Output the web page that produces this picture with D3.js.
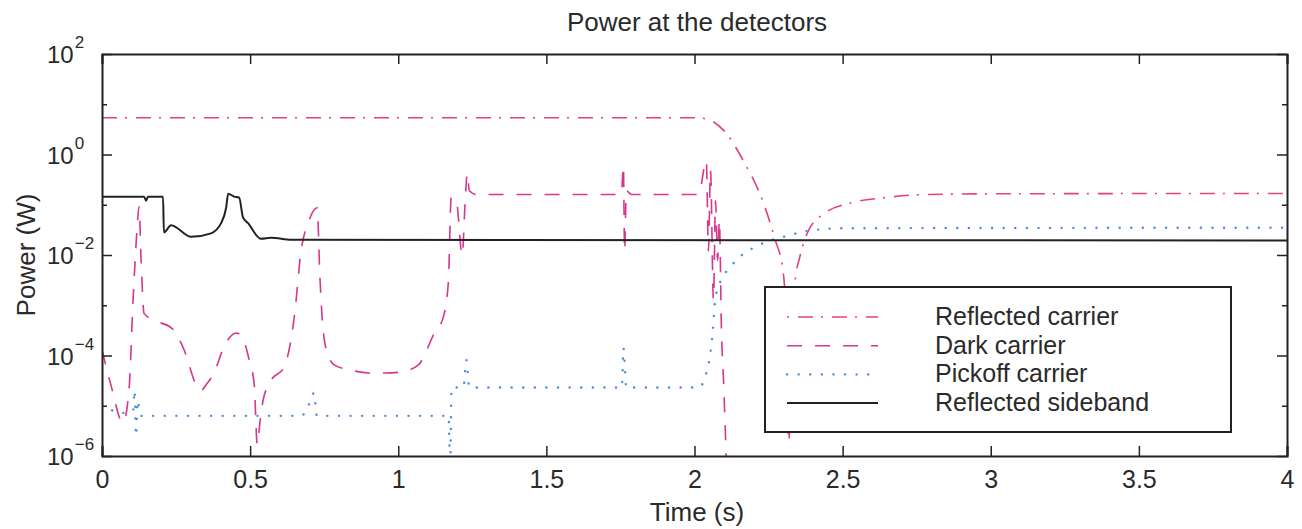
<!DOCTYPE html>
<html>
<head>
<meta charset="utf-8">
<script src="https://cdn.jsdelivr.net/npm/d3@7"></script>
<style>
  body { margin: 0; background: #fff; }
  svg text { font-family: "Liberation Sans", Arial, sans-serif; fill: #2a2a2a; }
</style>
</head>
<body>
<svg id="chart"></svg>
<script>
// time (s) and power (W)
var reflectedCarrierT = [0, 2.0, 2.04, 2.10, 2.17, 2.23, 2.27, 2.30, 2.31, 2.318, 2.33, 2.34, 2.355, 2.385, 2.44, 2.53, 2.64, 2.76, 3.0, 4.0];
var reflectedCarrierP = [5.4, 5.4, 5.1, 2.95, 0.66, 0.12, 0.022, 4.3e-3, 3.2e-4, 2e-6, 2.0e-4, 3.2e-3, 8.9e-3, 0.031, 0.068, 0.11, 0.138, 0.158, 0.165, 0.168];

var darkCarrierT = [0, 0.03, 0.071, 0.091, 0.105, 0.118, 0.125, 0.132, 0.142, 0.176, 0.233, 0.277, 0.318, 0.334, 0.351, 0.378, 0.412, 0.453, 0.470, 0.497, 0.514, 0.524, 0.534, 0.544, 0.571, 0.615, 0.649, 0.672, 0.699, 0.726, 0.736, 0.743, 0.757, 0.784, 0.841, 0.899, 0.959, 1.010, 1.068, 1.122, 1.152, 1.169, 1.179, 1.196, 1.216, 1.226, 1.233, 1.240, 1.264, 1.753, 1.760, 1.764, 1.770, 1.787, 2.014, 2.04, 2.047, 2.054, 2.064, 2.071, 2.078, 2.084, 2.091, 2.098, 2.105, 2.11];
var darkCarrierP = [1.3e-4, 2.6e-5, 4.6e-6, 2.0e-5, 1.3e-3, 0.031, 0.092, 7.8e-3, 6.9e-4, 5.0e-4, 3.6e-4, 1.3e-4, 2.6e-5, 2.0e-5, 2.6e-5, 4.5e-5, 1.5e-4, 2.8e-4, 2.5e-4, 8.1e-5, 2.6e-5, 1.7e-6, 5.2e-6, 1.3e-5, 3.2e-5, 5.9e-5, 5.8e-4, 0.012, 0.049, 0.087, 3.2e-3, 5.8e-4, 1.3e-4, 6.5e-5, 5.1e-5, 4.5e-5, 4.5e-5, 4.7e-5, 6.5e-5, 2.8e-4, 5.8e-4, 2.8e-3, 0.14, 0.12, 0.01, 0.12, 0.42, 0.19, 0.16, 0.16, 0.6, 0.012, 0.19, 0.16, 0.16, 0.76, 0.012, 0.48, 1.3e-3, 0.12, 7.8e-3, 0.049, 3.2e-4, 3.2e-5, 2.1e-6, 3e-7];

var pickoffCarrierT = [0, 0.03, 0.07, 0.105, 0.11, 0.115, 0.12, 0.13, 0.672, 0.69, 0.716, 0.725, 1.17, 1.175, 1.18, 1.22, 1.23, 1.24, 1.755, 1.76, 1.77, 2.014, 2.04, 2.055, 2.062, 2.07, 2.09, 2.12, 2.14, 2.17, 2.21, 2.25, 2.30, 2.38, 2.50, 4.0];
var pickoffCarrierP = [1.05e-5, 8.3e-6, 7.2e-6, 7.9e-6, 2.0e-5, 2.5e-6, 1.26e-5, 6.3e-6, 6.3e-6, 8e-6, 1.8e-5, 6.3e-6, 6.3e-6, 6.3e-7, 2.3e-5, 2.3e-5, 8.1e-5, 2.3e-5, 2.3e-5, 1.4e-4, 2.3e-5, 2.3e-5, 4.5e-5, 1.3e-4, 3.2e-4, 1.3e-3, 3.2e-3, 5.6e-3, 7.8e-3, 0.011, 0.015, 0.019, 0.023, 0.030, 0.034, 0.035];

var sidebandT = [0, 0.142, 0.149, 0.155, 0.206, 0.209, 0.233, 0.301, 0.368, 0.402, 0.419, 0.426, 0.446, 0.463, 0.476, 0.493, 0.537, 0.571, 0.639, 4.0];
var sidebandP = [0.145, 0.145, 0.12, 0.145, 0.145, 0.028, 0.039, 0.023, 0.027, 0.043, 0.087, 0.166, 0.145, 0.138, 0.056, 0.043, 0.021, 0.022, 0.020, 0.0195];

var seriesNames = ["Reflected carrier", "Dark carrier", "Pickoff carrier", "Reflected sideband"];
var xTicks = [0, 0.5, 1, 1.5, 2, 2.5, 3, 3.5, 4];
var yTickExps = [2, 1, 0, -1, -2, -3, -4, -5, -6];
var yLabelExps = [2, 0, -2, -4, -6];

var margin = { top: 54, right: 15, bottom: 73, left: 102 },
  W = 1302, H = 529,
  width = W - margin.left - margin.right,
  height = H - margin.top - margin.bottom;

var svg = d3.select("#chart").attr("width", W).attr("height", H);

var x = d3.scaleLinear().domain([0, 4]).range([0, width]);
var y = d3.scaleLog().domain([1e-6, 1e2]).range([height, 0]);

var styles = [
  { color: "#e5417c", dash: "15,8,2,9", width: 1.6, cap: "butt" },
  { color: "#d5368e", dash: "15,13", width: 1.6, cap: "butt" },
  { color: "#4a8de0", dash: "0.1,11.5", width: 2.4, cap: "round" },
  { color: "#222", dash: null, width: 2, cap: "butt" }
];

var series = [
  d3.zip(reflectedCarrierT, reflectedCarrierP),
  d3.zip(darkCarrierT, darkCarrierP),
  d3.zip(pickoffCarrierT, pickoffCarrierP),
  d3.zip(sidebandT, sidebandP)
];

var g = svg.append("g").attr("transform", "translate(" + margin.left + "," + margin.top + ")");

g.append("clipPath").attr("id", "clip")
  .append("rect").attr("width", width).attr("height", height);

var line = d3.line()
  .curve(d3.curveMonotoneX)
  .x(function(d) { return x(d[0]); })
  .y(function(d) { return y(Math.max(d[1], 1e-7)); });

g.append("g").attr("clip-path", "url(#clip)")
  .selectAll("path")
  .data(series)
  .enter().append("path")
  .attr("d", line)
  .attr("fill", "none")
  .attr("stroke", function(d, i) { return styles[i].color; })
  .attr("stroke-width", function(d, i) { return styles[i].width; })
  .attr("stroke-dasharray", function(d, i) { return styles[i].dash; })
  .attr("stroke-linecap", function(d, i) { return styles[i].cap; });

// axes: inward ticks on all four sides
var xb = d3.axisBottom(x).tickValues(xTicks).tickSize(-10).tickPadding(14).tickFormat(d3.format("~g"));
var xt = d3.axisTop(x).tickValues(xTicks).tickSize(-10).tickFormat("");
var ytickVals = yTickExps.map(function(e) { return Math.pow(10, e); });
var tickLen = function(v) {
  return yLabelExps.indexOf(Math.round(Math.log10(v))) >= 0 ? 10 : 5;
};

g.append("g").attr("transform", "translate(0," + height + ")").call(xb);
g.append("g").call(xt);
var ylG = g.append("g").call(d3.axisLeft(y).tickValues(ytickVals).tickFormat("").tickSize(0));
var yrG = g.append("g").attr("transform", "translate(" + width + ",0)")
  .call(d3.axisRight(y).tickValues(ytickVals).tickFormat("").tickSize(0));

// log ticks: labelled decades are long, others short
ylG.selectAll(".tick line").attr("x2", function(d) { return tickLen(d); });
yrG.selectAll(".tick line").attr("x2", function(d) { return -tickLen(d); });

g.selectAll(".domain").attr("stroke", "#222").attr("stroke-width", 2);
g.selectAll(".tick line").attr("stroke", "#222").attr("stroke-width", 1.5);
g.selectAll(".tick text").style("font-size", "25px").style("font-family", "Liberation Sans, Arial, sans-serif").attr("fill", "#2a2a2a");

// y tick labels, 10 with superscript exponent
var ylab = g.selectAll(".ylab")
  .data(yLabelExps)
  .enter().append("text")
  .attr("class", "ylab")
  .attr("x", -55)
  .attr("y", function(e) { return y(Math.pow(10, e)) + 9; })
  .style("font-size", "24px");
ylab.append("tspan").text("10");
ylab.append("tspan")
  .attr("dx", 1)
  .attr("dy", -15)
  .style("font-size", "17px")
  .text(function(e) { return e < 0 ? "\u2212" + (-e) : e; });

svg.append("text")
  .attr("x", 697)
  .attr("y", 31)
  .style("font-size", "26px")
  .style("text-anchor", "middle")
  .text("Power at the detectors");

svg.append("text")
  .attr("x", 697)
  .attr("y", 521)
  .style("font-size", "26px")
  .style("text-anchor", "middle")
  .text("Time (s)");

svg.append("text")
  .attr("transform", "translate(35,255) rotate(-90)")
  .style("font-size", "26px")
  .style("text-anchor", "middle")
  .text("Power (W)");

// legend
var legend = svg.append("g").attr("transform", "translate(765,287)");
legend.append("rect")
  .attr("width", 466)
  .attr("height", 145)
  .attr("fill", "#fff")
  .attr("stroke", "#222")
  .attr("stroke-width", 2);

var rows = legend.selectAll(".row")
  .data(seriesNames)
  .enter().append("g")
  .attr("class", "row")
  .attr("transform", function(d, i) { return "translate(0," + (30 + i * 28.7) + ")"; });

rows.append("line")
  .attr("x1", 22).attr("x2", 113)
  .attr("stroke", function(d, i) { return styles[i].color; })
  .attr("stroke-width", function(d, i) { return styles[i].width; })
  .attr("stroke-dasharray", function(d, i) { return i == 0 ? "2,9,15,8" : styles[i].dash; })
  .attr("stroke-linecap", function(d, i) { return styles[i].cap; });

rows.append("text")
  .attr("x", 170)
  .attr("y", 8)
  .style("font-size", "25px")
  .text(function(d) { return d; });
</script>
</body>
</html>
